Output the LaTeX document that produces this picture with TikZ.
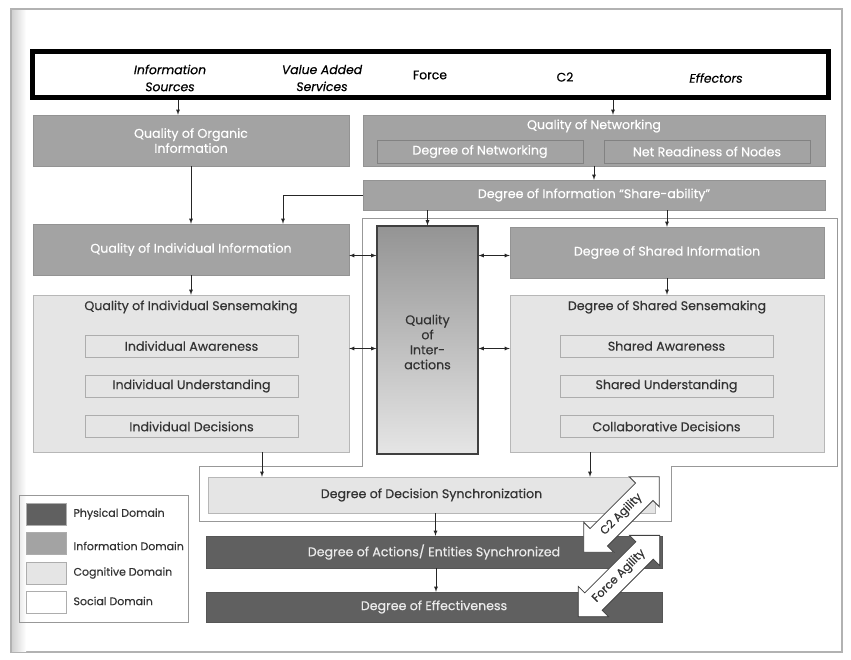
\documentclass[tikz,border=0pt]{standalone}
\usepackage{fontspec}
\setmainfont{Poppins}[FakeBold=0.4]
\usetikzlibrary{shapes.arrows}
\definecolor{physdom}{HTML}{606060}
\definecolor{infodom}{HTML}{A3A3A3}
\definecolor{cogdom}{HTML}{E5E5E5}
\definecolor{edgegrey}{HTML}{989898}
\definecolor{textgrey}{HTML}{333333}

\begin{document}
\begin{tikzpicture}[x=1pt, y=-1pt, >=latex,
    flow/.style={->, thick, black!85},
    twoway/.style={<->, thick, black!85},
    boxtext/.style={font=\fontsize{12.6}{15}\selectfont},
    infobox/.style={boxtext, fill=infodom, draw=infodom!90!black, text=white, align=center, inner sep=0pt},
    physbox/.style={boxtext, fill=physdom, draw=physdom!90!black, text=white!92!black, align=center, inner sep=0pt},
    cogbox/.style={boxtext, fill=cogdom, draw=edgegrey!70, text=textgrey, align=center, inner sep=0pt},
    subbox/.style={boxtext, draw=edgegrey!80, fill=cogdom, text=textgrey, minimum width=213pt, minimum height=22pt, inner sep=0pt},
    netsub/.style={boxtext, draw=infodom!80!black, fill=infodom, text=white, minimum width=206pt, minimum height=23pt, inner sep=0pt},
    toptext/.style={font=\fontsize{12.4}{17}\selectfont\itshape, align=center},
    agility/.style={shape=double arrow, rotate=45, draw=black!75, fill=white, thick,
        double arrow tip angle=90, double arrow head extend=9pt, inner ysep=6pt, inner xsep=1pt,
        font=\fontsize{11.5}{12}\selectfont, text=textgrey},
    swatch/.style={draw=edgegrey!80, minimum width=40pt, minimum height=22pt, inner sep=0pt},
    legendtext/.style={anchor=west, font=\fontsize{11}{12}\selectfont, text=textgrey}
    ]
    \useasboundingbox (0,0) rectangle (851,659);
    \draw[black!30, line width=1.5pt, fill=white] (11,9) rectangle (842,652);
    \shade[left color=black!18, right color=white] (12,10) rectangle (26,651);

    \draw[edgegrey, fill=white] (362,218) -- (837,218) -- (837,466) -- (671,466)
        -- (671,521) -- (199,521) -- (199,466) -- (362,466) -- cycle;

    \node[draw, line width=5pt, minimum width=796pt, minimum height=46pt] (actors) at (430,74) {};
    \node[toptext] (infoSrc) at (170,78) {Information\\Sources};
    \node[toptext] (valueAdd) at (322,78) {Value Added\\Services};
    \node[toptext, font=\fontsize{12.4}{17}\selectfont] (force) at (430,75) {Force};
    \node[toptext, font=\fontsize{12.4}{17}\selectfont] (ctwo) at (565,77) {C2};
    \node[toptext] (effectors) at (716,78) {Effectors};

    \node[infobox, minimum width=316pt, minimum height=51pt] (orgInfo) at (191,140.5) {Quality of Organic\\Information};
    \node[infobox, minimum width=462pt, minimum height=51pt] (netQual) at (594,140.5) {};
    \node[boxtext, text=white] (netTitle) at (594,126) {Quality of Networking};
    \node[netsub] (netDegree) at (480,151.5) {Degree of Networking};
    \node[netsub] (netReady) at (707,151.5) {Net Readiness of Nodes};
    \node[infobox, minimum width=462pt, minimum height=30pt] (shareAbility) at (594,195) {Degree of Information ``Share-ability''};

    \node[infobox, minimum width=316pt, minimum height=51pt] (indInfo) at (191,249.5) {Quality of Individual Information};
    \node[cogbox, minimum width=316pt, minimum height=157pt] (indSense) at (191,373.5) {};
    \node[boxtext, text=textgrey] (indTitle) at (191,307) {Quality of Individual Sensemaking};
    \node[subbox] (indAware) at (191.5,346) {Individual Awareness};
    \node[subbox] (indUnder) at (191.5,386) {Individual Understanding};
    \node[subbox] (indDecide) at (191.5,426.5) {Individual Decisions};

    \node[boxtext, draw=black!75, line width=1.2pt, top color=black!42, bottom color=black!10,
        minimum width=101pt, minimum height=228pt, text=textgrey, align=center, inner sep=0pt] (interact) at (427.5,340) {};
    \node[boxtext, text=textgrey, align=center] (interactText) at (427.5,342) {Quality\\of\\Inter-\\actions};

    \node[infobox, minimum width=314pt, minimum height=51pt] (sharedInfo) at (667,252.5) {Degree of Shared Information};
    \node[cogbox, minimum width=314pt, minimum height=157pt] (sharedSense) at (667,373.5) {};
    \node[boxtext, text=textgrey] (sharedTitle) at (667,307) {Degree of Shared Sensemaking};
    \node[subbox] (sharedAware) at (666.5,346) {Shared Awareness};
    \node[subbox] (sharedUnder) at (666.5,386) {Shared Understanding};
    \node[subbox] (collabDecide) at (666.5,426.5) {Collaborative Decisions};

    \node[cogbox, minimum width=447pt, minimum height=36pt] (decSync) at (431.5,495) {Degree of Decision Synchronization};
    \node[physbox, minimum width=456pt, minimum height=32pt] (actions) at (434,552) {Degree of Actions/ Entities Synchronized};
    \node[physbox, minimum width=456pt, minimum height=30pt] (effect) at (434,607) {Degree of Effectiveness};

    \node[agility, minimum height=107pt] (ctwoAgility) at (621.5,514.5) {C2 Agility};
    \node[agility, minimum height=115pt] (forceAgility) at (619,576) {Force Agility};

    \node[draw=edgegrey, minimum width=169pt, minimum height=127pt] (legend) at (103.5,558.5) {};
    \node[swatch, fill=physdom] (physSw) at (46,514) {};
    \node[swatch, fill=infodom] (infoSw) at (46,543.5) {};
    \node[swatch, fill=cogdom] (cogSw) at (46,573) {};
    \node[swatch, fill=white] (socSw) at (46,602) {};
    \node[legendtext] (physLbl) at (70,514) {Physical Domain};
    \node[legendtext] (infoLbl) at (70,546) {Information Domain};
    \node[legendtext] (cogLbl) at (70,573) {Cognitive Domain};
    \node[legendtext] (socLbl) at (70,601) {Social Domain};

    \draw[flow] (actors.south -| 178,0) -- (178,0 |- orgInfo.north);
    \draw[flow] ([xshift=19pt]actors.south -| netQual) -- ([xshift=19pt]netQual.north);
    \draw[flow] (netQual.south) -- (shareAbility.north);
    \draw[flow] (orgInfo.south) -- (indInfo.north);
    \draw[flow] (shareAbility.west) -| ([xshift=92pt]indInfo.north);
    \draw[flow] (indInfo.south) -- (indSense.north);
    \draw[flow] (shareAbility.south -| interact) -- (interact.north);
    \draw[flow] (shareAbility.south -| sharedInfo) -- (sharedInfo.north);
    \draw[flow] (sharedInfo.south) -- (sharedSense.north);
    \draw[twoway] ([yshift=-6pt]indInfo.east) -- ([yshift=-6pt]indInfo.east -| interact.west);
    \draw[twoway] ([yshift=-3pt]sharedInfo.west -| interact.east) -- ([yshift=-3pt]sharedInfo.west);
    \draw[twoway] ([yshift=25pt]indSense.east) -- ([yshift=25pt]indSense.east -| interact.west);
    \draw[twoway] ([yshift=25pt]sharedSense.west -| interact.east) -- ([yshift=25pt]sharedSense.west);
    \draw[flow] ([xshift=71pt]indSense.south) -- ([xshift=71pt]indSense.south |- decSync.north);
    \draw[flow] ([xshift=-77pt]sharedSense.south) -- ([xshift=-77pt]sharedSense.south |- decSync.north);
    \draw[flow] ([xshift=4pt]decSync.south) -- ([xshift=4pt]decSync.south |- actions.north);
    \draw[flow] ([xshift=2pt]actions.south) -- ([xshift=2pt]effect.north);
\end{tikzpicture}
\end{document}
